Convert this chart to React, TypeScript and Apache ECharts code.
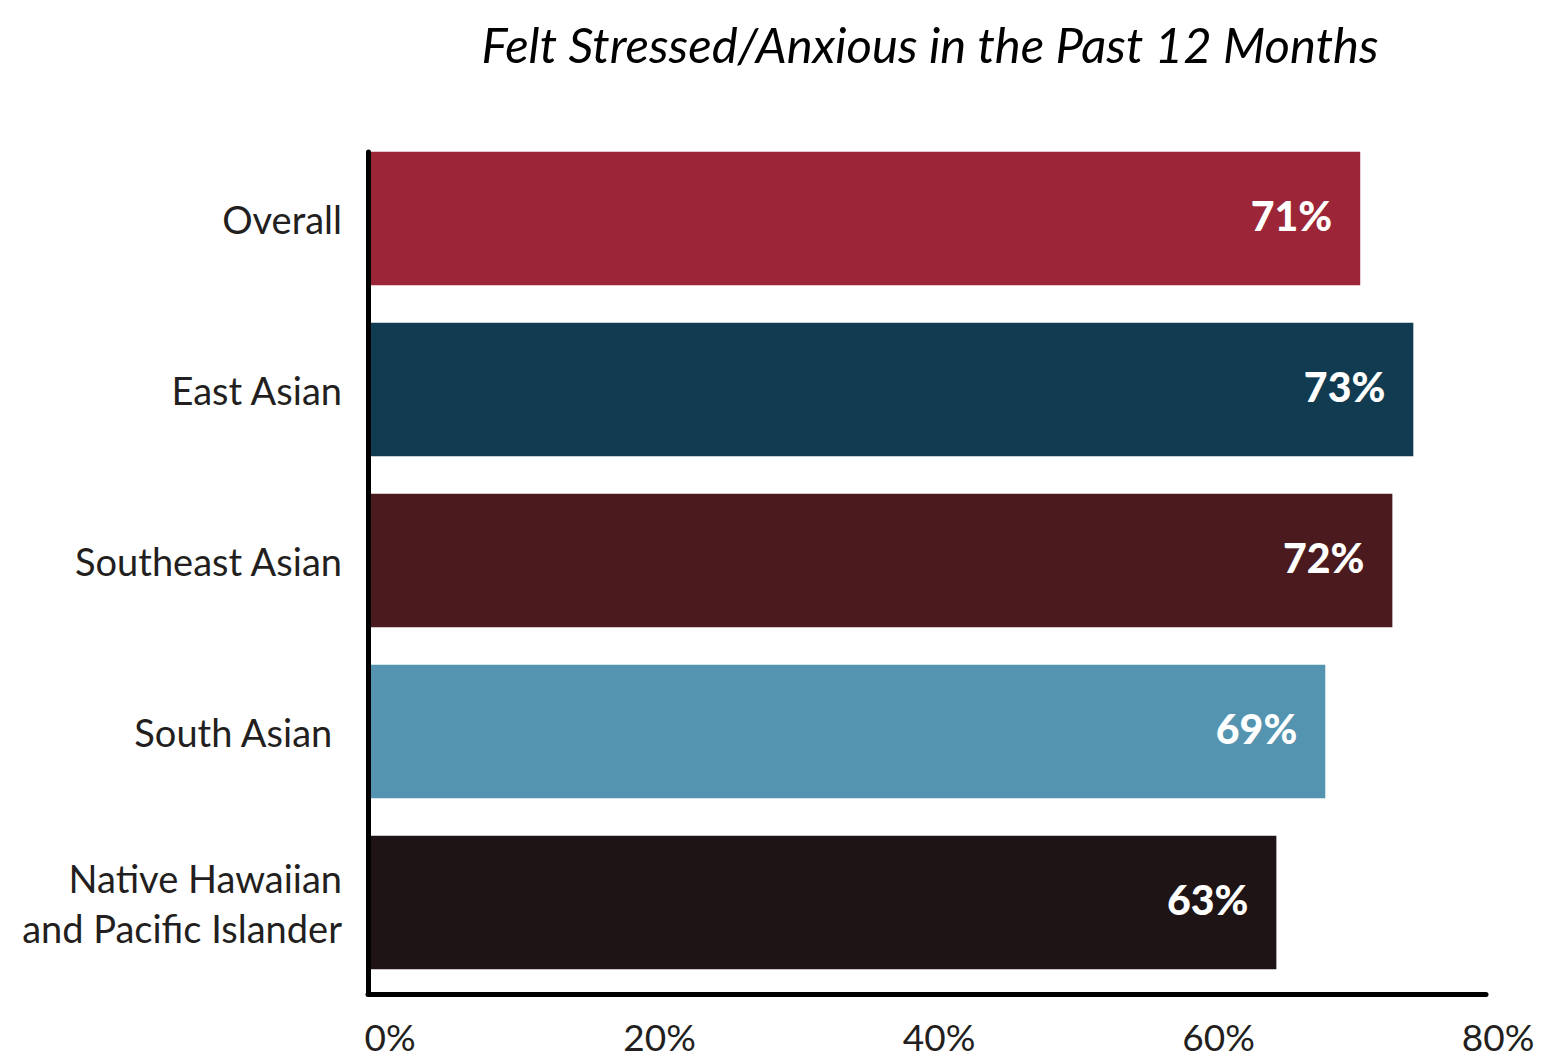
import React, { useEffect, useRef } from "react";
import * as echarts from "echarts";

const categories = [
  "Overall",
  "East Asian",
  "Southeast Asian",
  "South Asian ",
  "Native Hawaiian\nand Pacific Islander",
];
const values = [71, 74.8, 73.3, 68.5, 65.0];
const valueLabels = ["71%", "73%", "72%", "69%", "63%"];
const barColors = ["#9C2537", "#113B50", "#4A1A1F", "#5494B0", "#1E1416"];
const xTicks = [0, 20, 40, 60, 80];
const title = "Felt Stressed/Anxious in the Past 12 Months";

const FONT = "Lato";
const TEXT = "#231F20";

export default function App() {
  const ref = useRef<HTMLDivElement>(null);
  useEffect(() => {
    document.body.style.margin = "0";
    const chart = echarts.init(ref.current!, null, { renderer: "svg" });
    chart.setOption({
      animation: false,
      backgroundColor: "#ffffff",
      title: {
        text: title,
        left: 925,
        textAlign: "center",
        top: 14,
        textStyle: {
          fontFamily: FONT,
          fontStyle: "italic",
          fontWeight: 400,
          fontSize: 49,
          color: "#000000",
        },
      },
      grid: [
        { left: 368, right: 56, top: 133, bottom: 71 },
        { left: 368, right: 56, top: 152, bottom: 65 },
      ],
      xAxis: [
        {
          gridIndex: 0,
          type: "value",
          min: 0,
          max: 80,
          interval: 20,
          show: false,
        },
        {
          gridIndex: 1,
          type: "value",
          min: xTicks[0],
          max: xTicks[xTicks.length - 1],
          interval: 20,
          z: 5,
          axisLine: { show: true, lineStyle: { color: "#000000", width: 5 } },
          axisTick: { show: false },
          splitLine: { show: false },
          axisLabel: {
            margin: 26,
            lineHeight: 32,
            formatter: (v: number) =>
              v === 0 ? "{z|" + v + "%}" : "{n|" + v + "%}",
            rich: {
              z: {
                fontFamily: FONT,
                fontSize: 37,
                lineHeight: 32,
                color: TEXT,
                padding: [0, 0, 0, 44],
              },
              n: {
                fontFamily: FONT,
                fontSize: 37,
                lineHeight: 32,
                color: TEXT,
                padding: [0, 0, 0, 24],
              },
            },
          },
        },
      ],
      yAxis: [
        {
          gridIndex: 0,
          type: "category",
          data: categories,
          inverse: true,
          axisLine: { show: false },
          axisTick: { show: false },
          axisLabel: {
            margin: 26,
            fontFamily: FONT,
            fontSize: 38,
            color: TEXT,
            lineHeight: 50,
            align: "right",
          },
        },
        {
          gridIndex: 1,
          type: "category",
          data: categories,
          inverse: true,
          z: 5,
          axisLine: { show: true, lineStyle: { color: "#000000", width: 5 } },
          axisTick: { show: false },
          axisLabel: { show: false },
        },
      ],
      series: [
        {
          type: "bar",
          xAxisIndex: 0,
          yAxisIndex: 0,
          barCategoryGap: "22%",
          data: values.map((v, i) => ({
            value: v,
            itemStyle: { color: barColors[i] },
          })),
          label: {
            show: true,
            position: "insideRight",
            distance: 28,
            offset: [0, -3],
            formatter: (p: any) => valueLabels[p.dataIndex],
            fontFamily: FONT,
            fontWeight: 900,
            fontSize: 41,
            color: "#ffffff",
          },
        },
      ],
    });
    return () => chart.dispose();
  }, []);
  return <div ref={ref} style={{ width: 1542, height: 1059 }} />;
}
